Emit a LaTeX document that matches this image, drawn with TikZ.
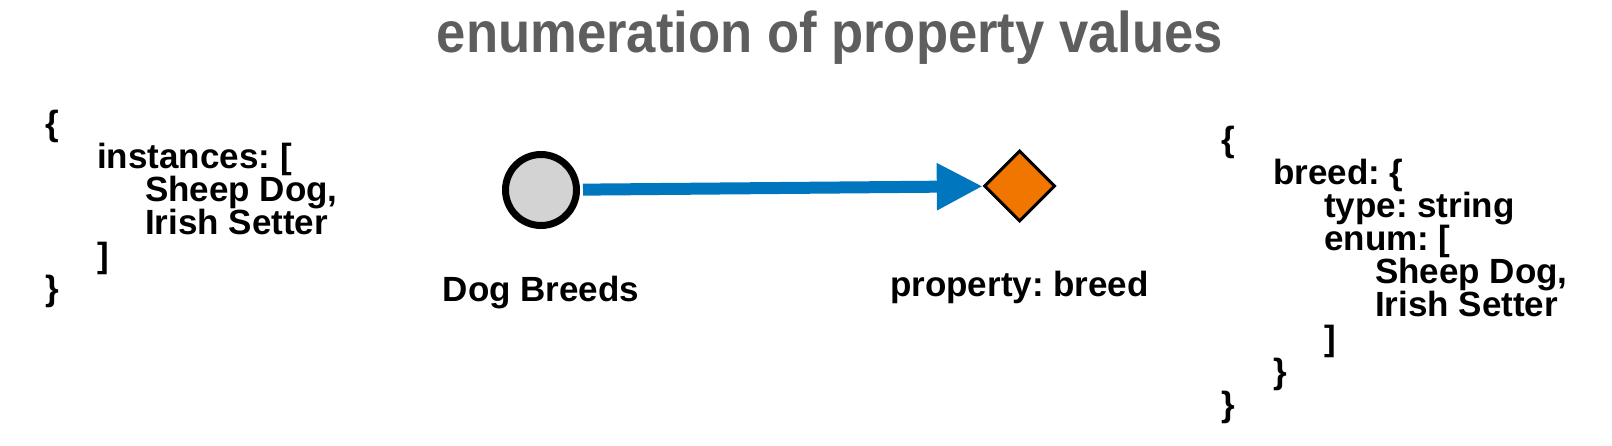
\documentclass[tikz,border=0pt]{standalone}
\usepackage{fontspec}
\setmainfont{Liberation Sans}
\newfontfamily\titlefont{Liberation Sans}[FakeStretch=0.915]
\usetikzlibrary{shapes.geometric,arrows.meta}
\definecolor{linkblue}{RGB}{0,118,190}
\definecolor{proporange}{RGB}{240,118,0}
\definecolor{titlegray}{RGB}{94,94,94}
\definecolor{classgray}{RGB}{211,211,211}
\frenchspacing

\begin{document}
\begin{tikzpicture}[x=1pt,y=-1pt,
	code/.style={anchor=base west, inner sep=0pt, font=\fontsize{35}{33}\selectfont\bfseries},
	lbl/.style={anchor=base, inner sep=0pt, font=\fontsize{35}{33}\selectfont\bfseries}]
	\useasboundingbox (0,0) rectangle (1612,446);
	\node[anchor=base, inner sep=0pt, text=titlegray, font=\titlefont\fontsize{57.5}{60}\selectfont\bfseries] (title) at (830,53) {enumeration of property values};
	% class and property
	\node[circle, draw, line width=7pt, fill=classgray, minimum size=71pt, inner sep=0pt] (breeds) at (541,190) {};
	\node[diamond, draw, line width=3pt, fill=proporange, minimum size=71pt, inner sep=0pt] (breed) at (1019.5,186) {};
	\draw[linkblue, line width=12pt, shorten <=3pt, -{Triangle[length=46pt,width=44pt]}] (breeds) -- (breed);
	\node[lbl] (breedsl) at (541,302) {Dog Breeds};
	\node[lbl] (breedl) at (1019.5,297) {property: breed};
	% instances
	\foreach \x/\y/\txt [count=\i] in {45/136/\{, 97/169/{instances: [}, 145/202/{Sheep Dog,},
			145/235/{Irish Setter}, 97/268/{]}, 45/301/\}}
		\node[code] (inst\i) at (\x,\y) {\txt};
	% schema
	\foreach \x/\y/\txt [count=\i] in {1221/152/\{, 1273/185/{breed: \{}, 1324/218/{type: string},
			1324/251/{enum: [}, 1375/284/{Sheep Dog,}, 1375/317/{Irish Setter}, 1324/350/{]},
			1273/383/\}, 1221/416/\}}
		\node[code] (schema\i) at (\x,\y) {\txt};
\end{tikzpicture}
\end{document}
